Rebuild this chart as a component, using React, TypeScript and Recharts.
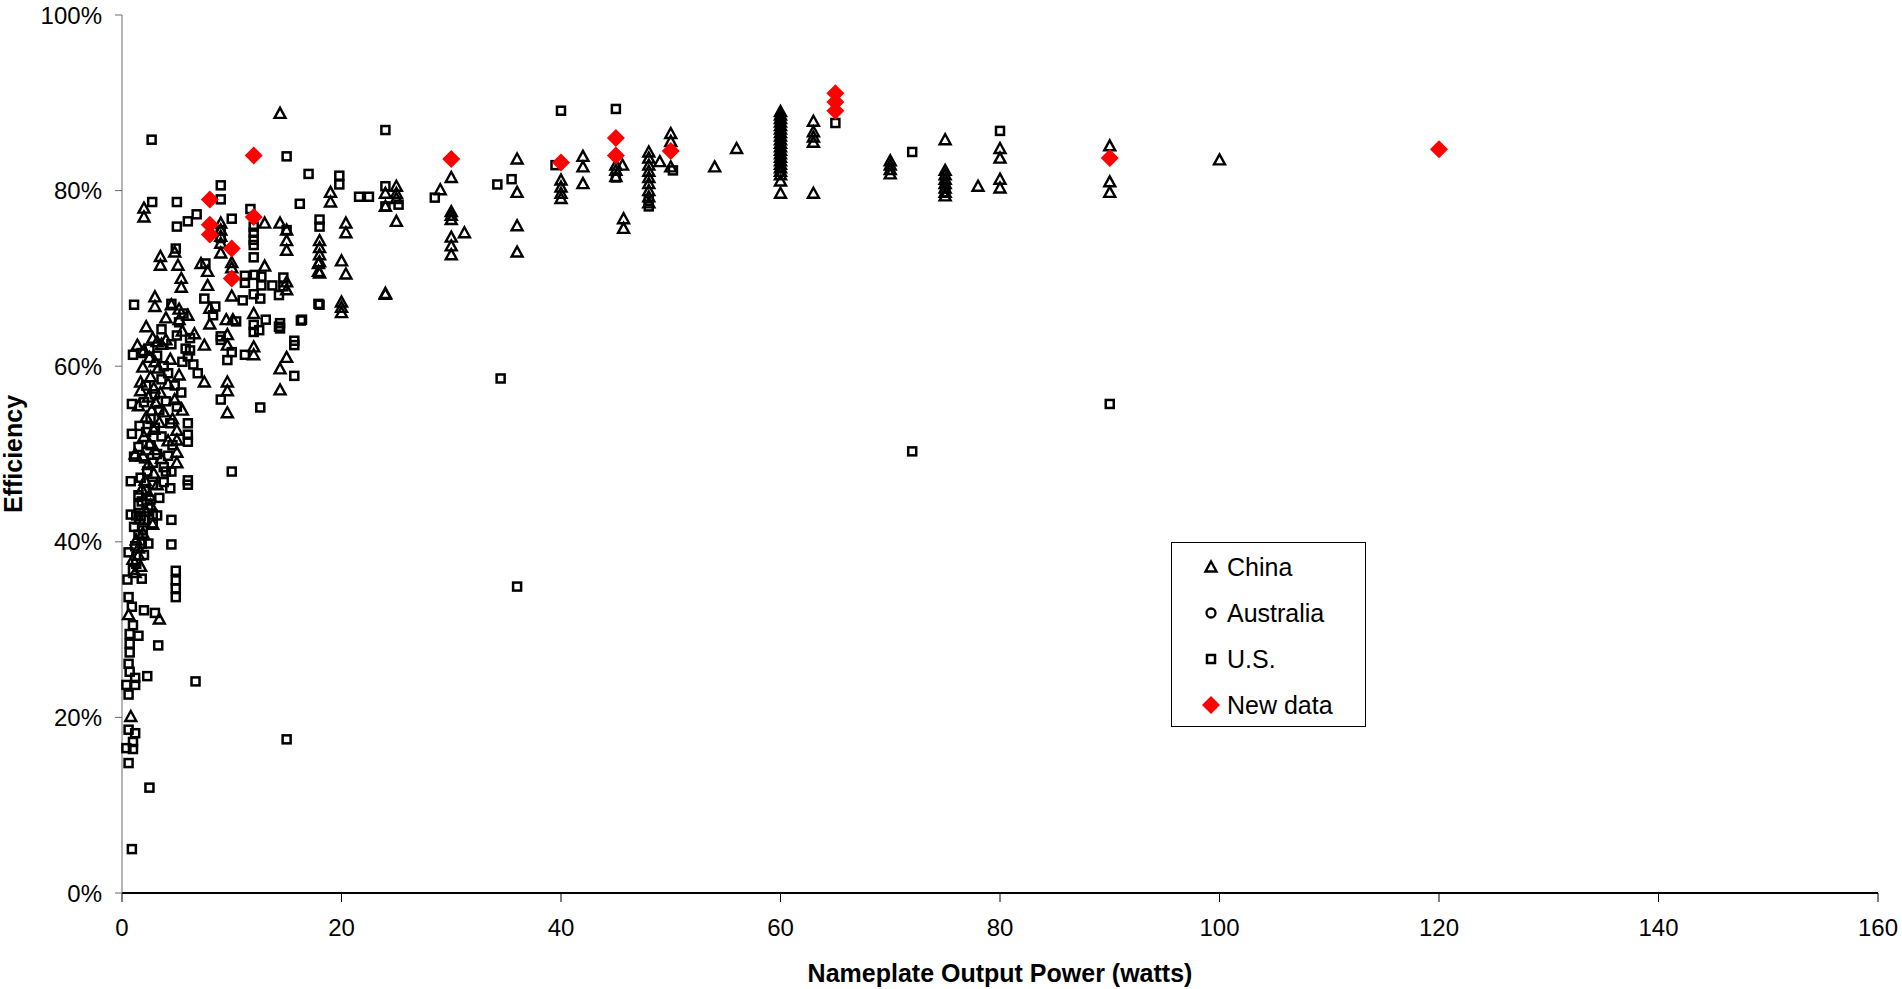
import React from 'react';
import { ScatterChart, Scatter, XAxis, YAxis, Legend } from 'recharts';

// [watts, efficiency %]
const chinaPoints = [
  [54, 82.7], [56, 84.8],
  [60, 89.0], [60, 88.6], [60, 88.2], [60, 87.8], [60, 87.4], [60, 87.0], [60, 86.6], [60, 86.2],
  [60, 85.8], [60, 85.4], [60, 85.0], [60, 84.6], [60, 84.2], [60, 83.8], [60, 83.4], [60, 83.0],
  [60, 82.6], [60, 82.2], [60, 81.8], [60, 81.1], [60, 79.7],
  [63, 87.9], [63, 86.7], [63, 86.1], [63, 85.5], [63, 79.7],
  [70, 83.4], [70, 82.9], [70, 82.4], [70, 81.9],
  [75, 85.8], [75, 82.3], [75, 81.8], [75, 81.3], [75, 80.8], [75, 80.3], [75, 79.8], [75, 79.4],
  [78, 80.5], [80, 84.8], [80, 83.7], [80, 81.3], [80, 80.3],
  [90, 85.1], [90, 81.0], [90, 79.8], [100, 83.5],
  [40, 81.2], [40, 80.4], [40, 79.7], [40, 79.1],
  [42, 83.9], [42, 82.7], [42, 80.8],
  [45, 82.9], [45, 82.3], [45, 81.6], [45.6, 82.9], [45.7, 76.8], [45.7, 75.7],
  [48, 84.4], [48, 83.7], [48, 82.9], [48, 82.2], [48, 81.5], [48, 80.8], [48, 80.0], [48, 79.3], [48, 78.6],
  [49, 83.3], [50, 86.5], [50, 85.6], [50, 82.7],
  [36, 83.6], [36, 79.8], [36, 76.0], [36, 73.0],
  [30, 81.5], [30, 77.6], [30, 77.2], [30, 76.7], [30, 74.7], [30, 73.7], [30, 72.7], [29, 80.1], [31.2, 75.2],
  [25, 80.5], [25, 79.7], [25, 79.1], [25, 76.5],
  [24, 79.7], [24, 78.2], [24, 68.2],
  [19, 79.8], [19, 78.7],
  [18, 74.3], [18, 73.5], [18, 72.7], [18, 71.9], [18, 70.6],
  [20.4, 76.3], [20.4, 75.2], [20, 72.0], [20.4, 70.5], [20, 67.3], [20, 66.7], [20, 66.1],
  [14.4, 88.8], [2, 78.0], [2, 77.0],
  [9, 76.3], [9, 75.5], [9, 74.8], [9, 74.0], [9, 72.9],
  [13, 76.3], [14.4, 76.3], [15, 75.5], [15, 74.3], [15, 73.2],
  [3.5, 72.5], [3.5, 71.5], [4.8, 73.0], [5.1, 71.5], [5.4, 70.0], [5.4, 69.0],
  [7.2, 71.7], [7.8, 70.8], [7.8, 69.2], [10, 71.8], [10, 71.2],
  [13, 71.4], [15, 69.6], [15, 68.7], [10, 68.0],
  [3, 67.9], [3, 66.8], [5.2, 66.5], [5.2, 65.3], [8, 66.6], [8, 64.8], [9.5, 65.3], [10.1, 65.3], [12, 66.0],
  [7.5, 62.4], [6.6, 63.7], [9.6, 63.6], [9.6, 62.4], [12, 62.2], [12, 61.3], [15, 61.0], [14.4, 59.7], [14.4, 57.3],
  [9.6, 58.2], [9.6, 57.2], [9.6, 54.7], [7.5, 58.2], [17.9, 71.7], [17.9, 70.8], [24, 68.3],
  [1.4, 62.4], [1.9, 59.9], [1.7, 58.2], [1.7, 57.2], [5.0, 52.7], [5.0, 51.6], [5.0, 50.2], [5.0, 49.0],
  [2.5, 45.3], [1.5, 38.5], [1.7, 37.2], [0.8, 20.1], [0.6, 31.7], [3.4, 31.2],
  [2.2, 64.5], [2.8, 63.2], [3.2, 62.8], [3.6, 62.5], [4.0, 63.0], [2.5, 61.0], [3.0, 60.5], [3.3, 59.8],
  [2.6, 58.8], [2.9, 57.5], [3.5, 57.0], [4.2, 58.0], [2.4, 56.5], [3.1, 55.8], [2.7, 55.0], [2.2, 54.2],
  [3.4, 53.6], [2.9, 52.8], [2.0, 52.0], [2.5, 51.2], [3.0, 50.5], [1.9, 49.8], [2.4, 48.8], [2.9, 47.8],
  [2.1, 47.0], [1.8, 46.0], [2.6, 44.2], [2.2, 43.5], [1.6, 42.6], [1.9, 41.0], [1.3, 40.2], [1.5, 39.3],
  [1.2, 36.5], [4.4, 60.8], [5.2, 59.0], [4.8, 56.2], [5.5, 55.0], [4.6, 54.0], [1.5, 55.5], [1.2, 50.0],
  [4.0, 65.5], [5.5, 64.0], [6.0, 65.8], [2.0, 61.8], [3.8, 54.8], [4.2, 51.5], [3.6, 49.5], [3.2, 46.5],
  [2.8, 42.0], [1.0, 38.0], [4.5, 67.0],
];

const australiaPoints: number[][] = [];

const usPoints = [
  [2.7, 85.8], [24, 86.9], [40, 89.1], [45, 89.3], [15, 83.9], [17, 81.9], [19.8, 81.7], [19.8, 80.7],
  [9, 80.6], [9, 79.0], [2.75, 78.7], [5, 78.7], [16.2, 78.5], [11.7, 77.9], [6.8, 77.3], [6.0, 76.5],
  [5.0, 75.9], [10, 76.8], [21.6, 79.3], [22.5, 79.3], [24, 80.5], [24, 78.2], [25.2, 78.4], [28.5, 79.2],
  [34.2, 80.7], [35.5, 81.3], [39.5, 82.9], [50.2, 82.3], [48, 78.2], [48, 78.8], [45, 81.5],
  [60, 86.0], [60, 84.4], [65, 87.7], [72, 84.4], [80, 86.8], [75, 80.3], [75, 79.8],
  [12, 75.9], [12, 75.2], [12, 74.4], [12, 73.8], [12, 72.4], [9, 75.5], [9, 74.6], [15, 75.5],
  [18, 76.7], [18, 75.9], [18, 67.0], [16.4, 65.3],
  [4.9, 73.4], [7.6, 71.7], [11.2, 70.3], [11.2, 69.5], [12.1, 70.4], [12.7, 70.2], [12.7, 69.2],
  [13.7, 69.2], [14.7, 70.1], [14.7, 69.1], [14.3, 68.1], [12.0, 68.2], [12.6, 67.7], [11.0, 67.5],
  [17.9, 67.1], [1.1, 67.0], [4.5, 67.1], [7.5, 67.7], [8.5, 66.8], [8.3, 65.8], [13.1, 65.3],
  [16.3, 65.2], [14.4, 64.9], [14.4, 64.3], [12, 64.7], [12, 63.9], [12.5, 64.1], [10.4, 65.1], [14.3, 64.5],
  [9, 63.4], [9, 63.0], [10, 61.6], [9.6, 60.7], [11.2, 61.3], [15.7, 62.9], [15.7, 62.4], [15.7, 58.9],
  [9, 56.2], [12.6, 55.3], [10, 48.0], [6.0, 61.1], [6.9, 59.2], [6.0, 53.5], [6.0, 52.2], [6.0, 51.4],
  [6.0, 47.0], [6.0, 46.5], [4.0, 48.0], [4.5, 48.0], [4.4, 46.1], [0.8, 46.9], [0.9, 52.3], [0.9, 55.7],
  [1.1, 49.7], [1.0, 61.3], [1.8, 61.5], [2.0, 55.9],
  [34.5, 58.6], [36, 34.9], [72, 50.3], [90, 55.7],
  [4.5, 42.5], [4.5, 39.7], [4.9, 36.7], [4.9, 35.6], [4.9, 34.7], [4.9, 33.7], [2.0, 32.2], [3.0, 31.9],
  [3.3, 28.2], [0.6, 33.7], [0.9, 32.6], [1.0, 30.5], [0.7, 29.5], [1.5, 29.3], [0.7, 28.4], [0.7, 27.4],
  [0.6, 26.1], [0.6, 38.8], [1.0, 36.8], [0.5, 35.7], [1.8, 35.8], [0.8, 43.1], [1.7, 42.9], [2.8, 43.1],
  [2.8, 42.1], [1.1, 41.7], [1.9, 41.3], [1.8, 39.8], [2.4, 39.8], [1.5, 45.3], [1.5, 44.2],
  [0.9, 5.0], [2.5, 12.0], [15, 17.5], [0.6, 18.6], [1.2, 18.2], [0.4, 16.5], [1.0, 16.4], [1.0, 17.2],
  [0.6, 14.8], [0.4, 23.7], [1.2, 23.7], [0.6, 22.6], [1.2, 24.5], [2.3, 24.7], [6.7, 24.1], [0.7, 25.2],
  [2.5, 62.0], [3.2, 61.2], [3.8, 60.0], [4.5, 62.5], [5.0, 63.5], [4.2, 59.2], [5.5, 60.5], [3.6, 58.5],
  [4.8, 57.8], [5.4, 57.0], [3.0, 56.8], [4.0, 56.0], [5.0, 55.4], [3.4, 55.0], [2.6, 54.0], [4.4, 53.5],
  [3.0, 53.0], [2.2, 52.5], [3.6, 52.0], [2.6, 51.0], [3.2, 50.0], [2.0, 49.5], [2.8, 49.0], [3.8, 48.5],
  [2.3, 48.0], [1.7, 47.3], [2.8, 46.5], [2.2, 45.8], [3.4, 45.0], [1.8, 44.6], [2.4, 43.8], [1.3, 43.0],
  [2.0, 42.5], [1.5, 40.8], [1.2, 39.5], [2.0, 38.5], [1.3, 37.5], [5.6, 66.0], [5.2, 65.0], [3.6, 64.2],
  [6.2, 63.2], [5.8, 62.0], [2.2, 57.8], [1.6, 53.2], [1.5, 50.8], [4.6, 51.0], [4.2, 49.8], [3.8, 46.8],
  [2.6, 44.8], [3.2, 43.0], [6.2, 61.8], [6.5, 60.2],
];

const newPoints = [
  [8, 79.0], [8, 76.1], [8, 75.0], [10, 73.4], [10, 70.0], [12, 84.0], [12, 77.0], [30, 83.6],
  [40, 83.2], [45, 86.0], [45, 84.0], [50, 84.5], [65, 91.1], [65, 90.1], [65, 89.1], [90, 83.7], [120, 84.7],
];

const xTicks = [0, 20, 40, 60, 80, 100, 120, 140, 160];
const yTicks = [0, 20, 40, 60, 80, 100];
const seriesNames = ['China', 'Australia', 'U.S.', 'New data'];

const toRows = (pts: number[][]) => pts.map(([x, y]) => ({ x, y }));

const FONT = 'Arial, "Liberation Sans", sans-serif';

const Triangle = (props: any) => {
  const { cx, cy } = props;
  return <path d={`M${cx},${cy - 5.5} L${cx + 5.5},${cy + 4.5} L${cx - 5.5},${cy + 4.5} Z`} fill="none" stroke="#000" strokeWidth={2.4} strokeLinejoin="miter" />;
};
const Square = (props: any) => {
  const { cx, cy } = props;
  return <rect x={cx - 4} y={cy - 4} width={8} height={8} fill="none" stroke="#000" strokeWidth={2.5} />;
};
const Circle = (props: any) => {
  const { cx, cy } = props;
  return <circle cx={cx} cy={cy} r={4.5} fill="none" stroke="#000" strokeWidth={2.3} />;
};
const Diamond = (props: any) => {
  const { cx, cy } = props;
  return <path d={`M${cx},${cy - 9} L${cx + 9},${cy} L${cx},${cy + 9} L${cx - 9},${cy} Z`} fill="#FF0000" />;
};

const markers: Record<string, any> = { China: Triangle, Australia: Circle, 'U.S.': Square, 'New data': Diamond };

const LegendBox = () => (
  <div style={{ width: 193, height: 183, border: '1px solid #000', background: '#fff', position: 'relative', fontFamily: FONT }}>
    {seriesNames.map((name, i) => {
      const M = markers[name];
      const cy = 24 + i * 46;
      return (
        <div key={name} style={{ position: 'absolute', left: 0, top: cy - 16, height: 32, display: 'flex', alignItems: 'center' }}>
          <svg width={52} height={32} style={{ display: 'block' }}>
            {name === 'New data'
              ? <path d="M39,7 L48,16 L39,25 L30,16 Z" fill="#FF0000" />
              : <M cx={39} cy={16} />}
          </svg>
          <span style={{ fontSize: 25, color: '#000', marginLeft: 3 }}>{name}</span>
        </div>
      );
    })}
  </div>
);

export default function App() {
  return (
    <div style={{ position: 'absolute', left: 0, top: 0, background: '#fff' }}>
      <ScatterChart width={1902} height={989} margin={{ top: 15, right: 24, bottom: 0, left: 0 }}>
        <XAxis
          type="number"
          dataKey="x"
          domain={[0, 160]}
          ticks={xTicks}
          interval={0}
          height={96}
          tickSize={9}
          tickMargin={17}
          axisLine={{ stroke: '#000', strokeWidth: 2 }}
          tickLine={{ stroke: '#000' }}
          tick={{ fill: '#000', fontSize: 24, fontFamily: FONT }}
          label={({ viewBox }: any) => (
            <text x={viewBox.x + viewBox.width / 2} y={viewBox.y + 89} textAnchor="middle" fontSize={25} fontWeight="bold" fontFamily={FONT} fill="#000">
              Nameplate Output Power (watts)
            </text>
          )}
        />
        <YAxis
          type="number"
          dataKey="y"
          domain={[0, 100]}
          ticks={yTicks}
          interval={0}
          width={122}
          tickSize={7}
          tickMargin={13}
          tickFormatter={(v: number) => `${v}%`}
          axisLine={{ stroke: '#6a6a6a' }}
          tickLine={{ stroke: '#6a6a6a' }}
          tick={{ fill: '#000', fontSize: 24, fontFamily: FONT }}
          label={({ viewBox }: any) => (
            <text x={22} y={viewBox.y + viewBox.height / 2} transform={`rotate(-90, 22, ${viewBox.y + viewBox.height / 2})`} textAnchor="middle" fontSize={25} fontWeight="bold" fontFamily={FONT} fill="#000">
              Efficiency
            </text>
          )}
        />
        <Legend
          layout="vertical"
          align="center"
          verticalAlign="middle"
          wrapperStyle={{ left: 1171, top: 542, width: 195, height: 185 }}
          content={() => <LegendBox />}
        />
        <Scatter name="China" data={toRows(chinaPoints)} shape={Triangle} isAnimationActive={false} />
        <Scatter name="Australia" data={toRows(australiaPoints)} shape={Circle} isAnimationActive={false} />
        <Scatter name="U.S." data={toRows(usPoints)} shape={Square} isAnimationActive={false} />
        <Scatter name="New data" data={toRows(newPoints)} shape={Diamond} isAnimationActive={false} />
      </ScatterChart>
    </div>
  );
}
